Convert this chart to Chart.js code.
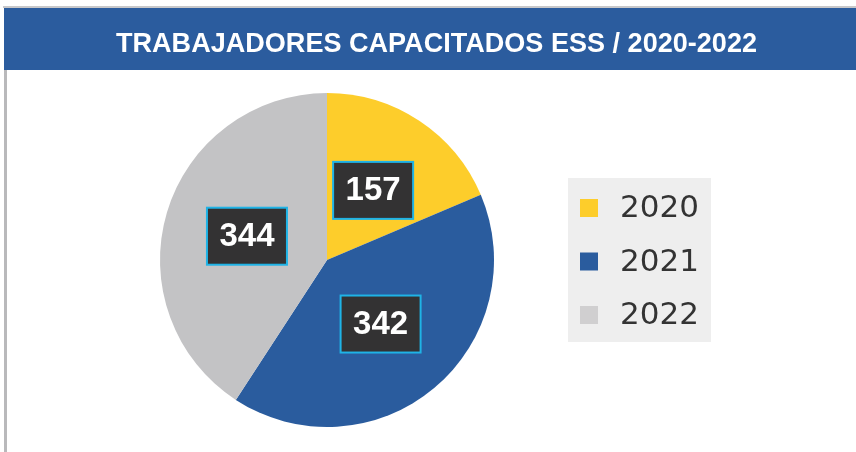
<!DOCTYPE html>
<html><head><meta charset="utf-8">
<script src="https://cdn.jsdelivr.net/npm/chart.js@4"></script>
<style>html,body{margin:0;padding:0;background:#fff;width:856px;height:452px;overflow:hidden}
#wrap{position:absolute;left:0;top:0;width:856px;height:452px}</style>
</head><body><div id="wrap"><canvas id="c" width="856" height="452"></canvas></div>
<script>
const chartTitle = 'TRABAJADORES CAPACITADOS ESS / 2020-2022';
const categories = ['2020', '2021', '2022'];
const values = [157, 342, 344];
const sliceColors = ['#FDCD2B', '#2A5C9E', '#C3C3C5'];
const legendColors = ['#FDCD2B', '#2A5C9E', '#D0CFD0'];

const framePlugin = {
  id: 'frame',
  beforeDraw(chart) {
    const ctx = chart.ctx;
    ctx.save();
    ctx.fillStyle = '#fff';
    ctx.fillRect(0, 0, 856, 452);
    ctx.fillStyle = '#C8C8CA';
    ctx.fillRect(3, 6, 853, 2);
    ctx.fillStyle = '#B9B9BB';
    ctx.fillRect(4, 8, 3, 444);
    ctx.fillStyle = '#2B5C9E';
    ctx.fillRect(4, 8, 852, 62);
    ctx.font = 'bold 28px "Liberation Sans", Arial, sans-serif';
    ctx.fillStyle = '#fff';
    ctx.textBaseline = 'alphabetic';
    ctx.textAlign = 'left';
    const w = ctx.measureText(chartTitle).width;
    const target = 641;
    ctx.translate(116, 52);
    ctx.scale(target / w, 1);
    ctx.fillText(chartTitle, 0, 0);
    ctx.restore();
  },
  afterDraw(chart) {
    const ctx = chart.ctx;
    const meta = chart.getDatasetMeta(0);
    ctx.save();
    meta.data.forEach((arc, i) => {
      const p = arc.getCenterPoint();
      const bw = 80, bh = 57;
      ctx.fillStyle = '#333233';
      ctx.fillRect(p.x - bw / 2, p.y - bh / 2, bw, bh);
      ctx.strokeStyle = '#1FB3E6';
      ctx.lineWidth = 2;
      ctx.strokeRect(p.x - bw / 2, p.y - bh / 2, bw, bh);
      ctx.fillStyle = '#fff';
      ctx.font = 'bold 33px "Liberation Sans", Arial, sans-serif';
      ctx.textAlign = 'center';
      ctx.textBaseline = 'middle';
      ctx.fillText(String(chart.data.datasets[0].data[i]), p.x, p.y + 1);
    });
    ctx.fillStyle = '#EEEEEE';
    ctx.fillRect(568, 178, 143, 164);
    chart.data.labels.forEach((lab, i) => {
      const cy = 208 + i * 53.5;
      ctx.fillStyle = legendColors[i];
      ctx.fillRect(580, cy - 9, 18, 18);
      ctx.fillStyle = '#333';
      ctx.font = '31px "DejaVu Sans", sans-serif';
      ctx.textAlign = 'left';
      ctx.textBaseline = 'middle';
      ctx.fillText(lab, 620, cy + 1);
    });
    ctx.restore();
  }
};

new Chart(document.getElementById('c'), {
  type: 'pie',
  data: {
    labels: categories,
    datasets: [{ data: values, backgroundColor: sliceColors, borderWidth: 0 }]
  },
  options: {
    responsive: false,
    animation: false,
    layout: { padding: { top: 93, bottom: 25, left: 160, right: 362 } },
    plugins: { legend: { display: false }, tooltip: { enabled: false }, title: { display: false } }
  },
  plugins: [framePlugin]
});
</script></body></html>
